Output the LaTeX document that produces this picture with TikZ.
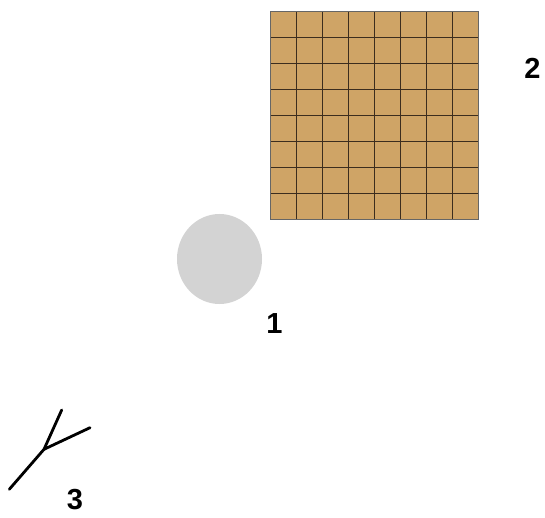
\documentclass[tikz,border=0pt]{standalone}
\usepackage{fontspec}
\setmainfont{Liberation Sans}
\definecolor{tilefill}{RGB}{207,164,102}
\definecolor{tileline}{RGB}{60,45,30}
\definecolor{discgray}{RGB}{211,211,211}
\begin{document}
\begin{tikzpicture}[
  x=1pt,
  y=1pt,
  numlabel/.style={font=\fontsize{29}{29}\selectfont\bfseries, inner sep=0pt}
]
\useasboundingbox (0,0) rectangle (545,517);

% tiled square
\fill[tilefill] (270.5,298) rectangle (478,506);
\foreach \i in {1,...,7} {
  \draw[tileline, line width=0.8pt] (270.5+25.94*\i,298) -- (270.5+25.94*\i,506);
  \draw[tileline, line width=0.8pt] (270.5,298+26*\i) -- (478,298+26*\i);
}
\draw[gray!80!black, line width=0.8pt] (270.5,298) rectangle (478,506);

% disc
\fill[discgray] (219.5,258) ellipse [x radius=42.5, y radius=45];

% forked stick
\coordinate (fork) at (44,67.7);
\coordinate (stem) at (9.3,27.7);
\coordinate (armup) at (61.7,107);
\coordinate (armright) at (90,89.3);
\draw[line width=2.8pt, line cap=round] (stem) -- (fork) -- (armup);
\draw[line width=2.8pt, line cap=round] (fork) -- (armright);

\node[numlabel] (one) at (274.5,193.5) {1};
\node[numlabel] (two) at (532.5,449) {2};
\node[numlabel] (three) at (75,17) {3};
\end{tikzpicture}
\end{document}
